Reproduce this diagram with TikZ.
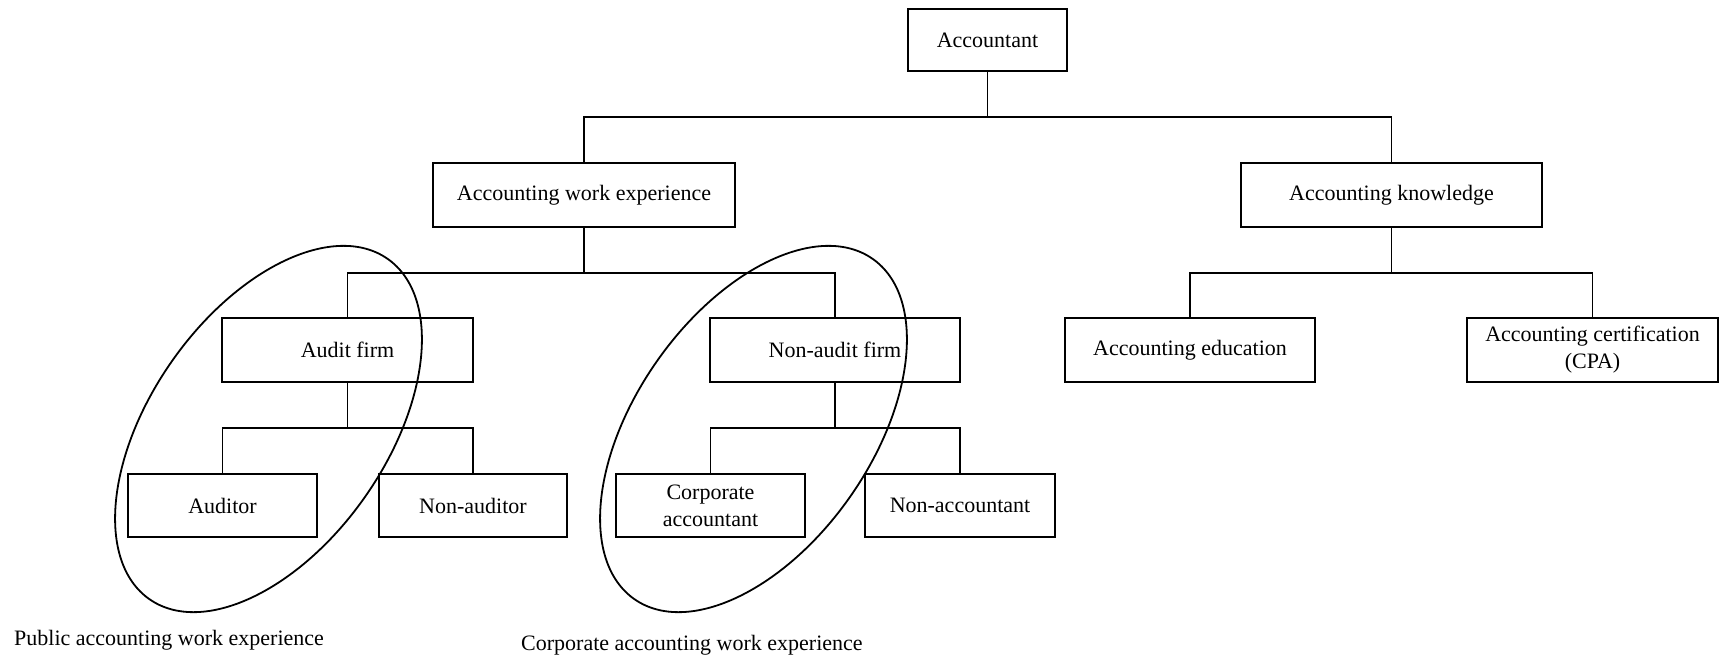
\documentclass[tikz,border=0pt]{standalone}
\usepackage{fontspec}
\setmainfont{Liberation Serif}
\begin{document}
\begin{tikzpicture}[x=1pt,y=-1pt,
  box/.style={draw,line width=2pt,rectangle,inner sep=0pt,align=center,
    font=\fontsize{22}{27}\selectfont,minimum height=63pt},
  conn/.style={line width=1.9pt},
  ring/.style={line width=1.8pt},
  lbl/.style={anchor=west,inner sep=0pt,font=\fontsize{22}{27}\selectfont}]
\useasboundingbox (0,0) rectangle (1721,658);
% boxes
\node[box,minimum width=159pt,minimum height=62pt] (acc) at (987.5,40) {Accountant};
\node[box,minimum width=302pt,minimum height=64pt] (awe) at (584,195) {Accounting work experience};
\node[box,minimum width=301pt,minimum height=64pt] (ak) at (1391.5,195) {Accounting knowledge};
\node[box,minimum width=251pt,minimum height=64pt] (af) at (347.5,350) {Audit firm};
\node[box,minimum width=250pt,minimum height=64pt] (naf) at (835,350) {Non-audit firm};
\node[box,minimum width=250pt,minimum height=64pt] (ae) at (1190,350) {Accounting education};
\node[box,minimum width=251pt,minimum height=64pt] (ac) at (1592.5,350) {Accounting certification\\(CPA)};
\node[box,minimum width=189pt] (aud) at (222.5,505.5) {Auditor};
\node[box,minimum width=188pt] (nau) at (473,505.5) {Non-auditor};
\node[box,minimum width=189pt] (ca) at (710.5,505.5) {Corporate\\accountant};
\node[box,minimum width=190pt] (nac) at (960,505.5) {Non-accountant};
% junctions
\coordinate (j1) at (987.5,117);
\coordinate (j2) at (584,273);
\coordinate (j3) at (1391.5,273);
\coordinate (j4) at (347.5,428);
\coordinate (j5) at (835,428);
% connectors
\draw[conn] (acc.south) -- (j1);
\draw[conn] (awe.north) |- (j1) -| (ak.north);
\draw[conn] (awe.south) -- (j2);
\draw[conn] (af.north) |- (j2) -| (naf.north);
\draw[conn] (ak.south) -- (j3);
\draw[conn] (ae.north) |- (j3) -| (ac.north);
\draw[conn] (af.south) -- (j4);
\draw[conn] (aud.north) |- (j4) -| (nau.north);
\draw[conn] (naf.south) -- (j5);
\draw[conn] (ca.north) |- (j5) -| (nac.north);
% ellipses
\draw[ring,rotate around={-35:(268.5,429)}] (268.5,429) ellipse [x radius=118pt, y radius=207.7pt];
\draw[ring,rotate around={-35:(753.5,429)}] (753.5,429) ellipse [x radius=118pt, y radius=207.7pt];
% labels
\node[lbl] (pub) at (14,640) {Public accounting work experience};
\node[lbl] (corp) at (521,645) {Corporate accounting work experience};
\end{tikzpicture}
\end{document}
